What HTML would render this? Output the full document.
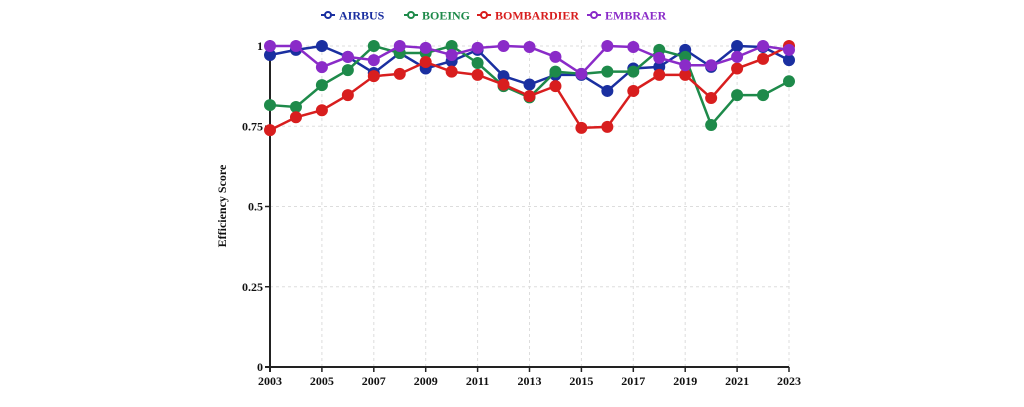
<!DOCTYPE html>
<html><head><meta charset="utf-8"><style>
body{margin:0;background:#fff;width:1024px;height:407px;overflow:hidden}
svg{display:block;font-family:"Liberation Serif",serif}
</style></head><body>
<svg id="chart" width="1024" height="407"></svg>
<script>
const years=[2003,2004,2005,2006,2007,2008,2009,2010,2011,2012,2013,2014,2015,2016,2017,2018,2019,2020,2021,2022,2023];
const airbus=[0.972,0.988,1.0,0.966,0.916,0.978,0.93,0.953,0.988,0.906,0.88,0.91,0.91,0.86,0.93,0.935,0.988,0.935,1.0,0.997,0.956];
const boeing=[0.816,0.81,0.878,0.925,1.0,0.978,0.978,1.0,0.947,0.875,0.84,0.92,0.913,0.92,0.92,0.988,0.966,0.754,0.847,0.847,0.89];
const bombardier=[0.738,0.778,0.80,0.847,0.906,0.913,0.95,0.92,0.91,0.88,0.844,0.875,0.745,0.748,0.86,0.91,0.91,0.838,0.93,0.96,1.0];
const embraer=[1,1,0.934,0.966,0.956,1,0.994,0.972,0.994,1.0,0.997,0.966,0.913,1,0.997,0.963,0.94,0.94,0.966,1,0.988];
const yTicks=[0,0.25,0.5,0.75,1];
const yTickLabels=["0","0.25","0.5","0.75","1"];
const xTicks=[2003,2005,2007,2009,2011,2013,2015,2017,2019,2021,2023];
const seriesNames=["AIRBUS","BOEING","BOMBARDIER","EMBRAER"];
const seriesColors=["#1a2fa0","#1e8a4a","#d81e1e","#8a2bc8"];
const seriesData=[airbus,boeing,bombardier,embraer];
const legendX=[321,404,477,587];

const NS="http://www.w3.org/2000/svg";
const svg=document.getElementById('chart');
const X0=270,X1=789,Y0=367,Y1=46;
const xs=v=>X0+(v-2003)/(2023-2003)*(X1-X0);
const ys=v=>Y0-v*(Y0-Y1);
function mk(t,a,p){const e=document.createElementNS(NS,t);for(const k in a)e.setAttribute(k,a[k]);(p||svg).appendChild(e);return e;}

const grid=mk('g',{});


yTicks.forEach(v=>{if(v>0)mk('line',{x1:X0,x2:X1,y1:ys(v),y2:ys(v),stroke:'#ddd','stroke-dasharray':'3,3'},grid);});
xTicks.forEach(v=>{if(v>2003)mk('line',{x1:xs(v),x2:xs(v),y1:Y0,y2:40,stroke:'#ddd','stroke-dasharray':'3,3'},grid);});

const ax=mk('g',{});


mk('line',{x1:X0,x2:X0,y1:40,y2:Y0+5,stroke:'#222','stroke-width':2},ax);
mk('line',{x1:X0-5,x2:X1,y1:Y0,y2:Y0,stroke:'#222','stroke-width':2},ax);
yTicks.forEach((v,i)=>{
  mk('line',{x1:X0-5,x2:X0,y1:ys(v),y2:ys(v),stroke:'#222','stroke-width':1.5},ax);
  const t=mk('text',{x:X0-7,y:ys(v)+4,'text-anchor':'end','font-size':12,'font-weight':'bold',fill:'#111'},ax);
  t.textContent=yTickLabels[i];
  
  
});
xTicks.forEach(v=>{
  mk('line',{x1:xs(v),x2:xs(v),y1:Y0,y2:Y0+5,stroke:'#222','stroke-width':1.5},ax);
  const t=mk('text',{x:xs(v),y:Y0+18,'text-anchor':'middle','font-size':12,'font-weight':'bold',fill:'#111'},ax);
  t.textContent=v;
  
  
});
const yt=mk('text',{x:226,y:206,'text-anchor':'middle','font-size':12,'font-weight':'bold',fill:'#111',transform:'rotate(-90 226 206)'});
yt.textContent='Efficiency Score';



seriesData.forEach((d,si)=>{
  const g=mk('g',{});
  
  
  mk('polyline',{points:d.map((v,i)=>xs(years[i])+','+ys(v)).join(' '),fill:'none',stroke:seriesColors[si],'stroke-width':2.5},g);
  d.forEach((v,i)=>{
    const c=mk('circle',{cx:xs(years[i]),cy:ys(v),r:6,fill:seriesColors[si]},g);
    
    
  });
});

const lg=mk('g',{});


seriesNames.forEach((n,i)=>{
  const e=mk('g',{},lg);
  
  
  const x=legendX[i];
  mk('line',{x1:x,x2:x+14,y1:15,y2:15,stroke:seriesColors[i],'stroke-width':2},e);
  mk('circle',{cx:x+7,cy:15,r:3,fill:'#fff',stroke:seriesColors[i],'stroke-width':2},e);
  const t=mk('text',{x:x+18,y:19.5,'font-size':12,'font-weight':'bold',fill:seriesColors[i]},e);
  t.textContent=n;
});
</script>
</body></html>
